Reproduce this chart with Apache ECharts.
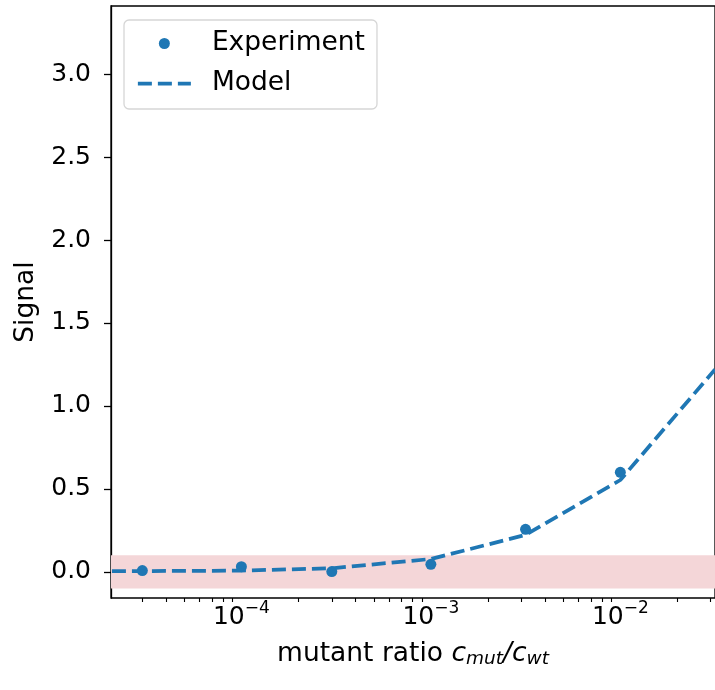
<!DOCTYPE html>
<html>
<head>
<meta charset="utf-8">
<script src="https://cdn.jsdelivr.net/npm/echarts@6/dist/echarts.min.js"></script>
<style>html,body{margin:0;padding:0;background:#fff;}#c{width:715px;height:690px;}</style>
</head>
<body>
<div id="c"></div>
<script>
// ---- data ----
const expX = [3e-5, 1e-4, 3e-4, 1e-3, 3.16e-3, 1e-2];
const expY = [0.008, 0.032, 0.002, 0.046, 0.257, 0.60];
const modelX = [1e-5, 3e-5, 1e-4, 3e-4, 1e-3, 3.16e-3, 1e-2, 3.16e-2];
const modelY = [0.004, 0.005, 0.008, 0.022, 0.078, 0.223, 0.554, 1.22];
const xMajorTicks = [1e-4, 1e-3, 1e-2];
const xMinorTicks = [2e-5,3e-5,4e-5,5e-5,6e-5,7e-5,8e-5,9e-5,2e-4,3e-4,4e-4,5e-4,6e-4,7e-4,8e-4,9e-4,2e-3,3e-3,4e-3,5e-3,6e-3,7e-3,8e-3,9e-3,2e-2,3e-2];
const yTicks = [0, 0.5, 1.0, 1.5, 2.0, 2.5, 3.0];
const bandRange = [-0.1, 0.1];
const xRange = [2.05e-5, 0.0316];
const yRange = [-0.157, 3.41];

const C0 = '#1f77b4';
const FONT = 'DejaVu Sans';
const LABEL_FS = 26.5;
const chart = echarts.init(document.getElementById('c'), null, {renderer: 'canvas'});

function pow10Label(v) {
  const e = Math.round(Math.log10(v));
  return '{b|10}{s|\u2212' + Math.abs(e) + '}';
}

const option = {
  animation: false,
  backgroundColor: '#fff',
  textStyle: {fontFamily: FONT},
  grid: {left: 111, top: 6, right: -2, bottom: 92, show: true, borderColor: '#000', borderWidth: 1.3, backgroundColor: 'transparent'},
  legend: {
    orient: 'vertical', left: 124, top: 20,
    data: [
      {name: 'Experiment', itemStyle: {color: C0, opacity: 1}},
      {name: 'Model', itemStyle: {opacity: 0}, lineStyle: {color: C0, width: 3.75, type: [14, 6], cap: 'butt'}}
    ],
    itemWidth: 53, itemHeight: 11, itemGap: 13,
    padding: [10, 12, 12, 12],
    backgroundColor: 'rgba(255,255,255,0.85)',
    borderColor: '#d6d6d6', borderWidth: 1.3, borderRadius: 5,
    textStyle: {fontFamily: FONT, fontSize: LABEL_FS, color: '#000', lineHeight: 26, padding: [0, 0, 0, 16]}
  },
  xAxis: [{
    type: 'log', min: xRange[0], max: xRange[1], logBase: 10,
    position: 'bottom',
    axisLine: {show: true, lineStyle: {color: '#000', width: 1.3}},
    axisTick: {show: true, length: 7, inside: false, lineStyle: {color: '#000', width: 1.3}, customValues: xMajorTicks},
    minorTick: {show: false},
    splitLine: {show: false},
    axisLabel: {
      customValues: xMajorTicks, margin: 2, formatter: pow10Label,
      rich: {
        b: {fontFamily: FONT, fontSize: 25, color: '#000', lineHeight: 30, verticalAlign: 'bottom'},
        s: {fontFamily: FONT, fontSize: 17, color: '#000', lineHeight: 18, verticalAlign: 'top'}
      }
    },
    name: '{t|mutant ratio }{i|c}{sub|mut}{i|/c}{sub|wt}',
    nameLocation: 'middle', nameGap: 41,
    nameTextStyle: {
      rich: {
        t: {fontFamily: FONT, fontSize: LABEL_FS, color: '#000', lineHeight: 30},
        i: {fontFamily: FONT, fontSize: LABEL_FS, fontStyle: 'italic', color: '#000', lineHeight: 30},
        sub: {fontFamily: FONT, fontSize: 18.5, fontStyle: 'italic', color: '#000', lineHeight: 16, verticalAlign: 'bottom'}
      }
    }
  }, {
    type: 'log', min: xRange[0], max: xRange[1], logBase: 10,
    position: 'bottom', offset: 0,
    axisLine: {show: false},
    axisTick: {show: true, length: 4, lineStyle: {color: '#000', width: 1.1}, customValues: xMinorTicks},
    axisLabel: {show: false},
    splitLine: {show: false}
  }],
  yAxis: {
    type: 'value', min: yRange[0], max: yRange[1],
    axisLine: {show: true, lineStyle: {color: '#000', width: 1.3}},
    axisTick: {show: true, length: 7, lineStyle: {color: '#000', width: 1.3}, customValues: yTicks},
    splitLine: {show: false},
    axisLabel: {customValues: yTicks, margin: 20, fontFamily: FONT, fontSize: 25, color: '#000', formatter: v => v.toFixed(1)},
    name: 'Signal', nameLocation: 'middle', nameGap: 71, nameRotate: 90,
    nameTextStyle: {fontFamily: FONT, fontSize: LABEL_FS, color: '#000'}
  },
  series: [
    {
      name: 'band', type: 'line', data: [], silent: true, z: 1,
      markArea: {silent: true, itemStyle: {color: '#f4d6d8'}, data: [[{yAxis: bandRange[0]}, {yAxis: bandRange[1]}]]}
    },
    {
      name: 'Experiment', type: 'scatter', xAxisIndex: 0, z: 3,
      symbol: 'circle', symbolSize: 11, itemStyle: {color: C0, opacity: 1},
      data: expX.map((x, i) => [x, expY[i]])
    },
    {
      name: 'Model', type: 'line', xAxisIndex: 0, z: 4,
      symbol: 'none', showSymbol: false, clip: true,
      lineStyle: {color: C0, width: 3.75, type: [14, 6], cap: 'butt'},
      itemStyle: {color: C0},
      data: modelX.map((x, i) => [x, modelY[i]])
    }
  ]
};
chart.setOption(option);
</script>
</body>
</html>
